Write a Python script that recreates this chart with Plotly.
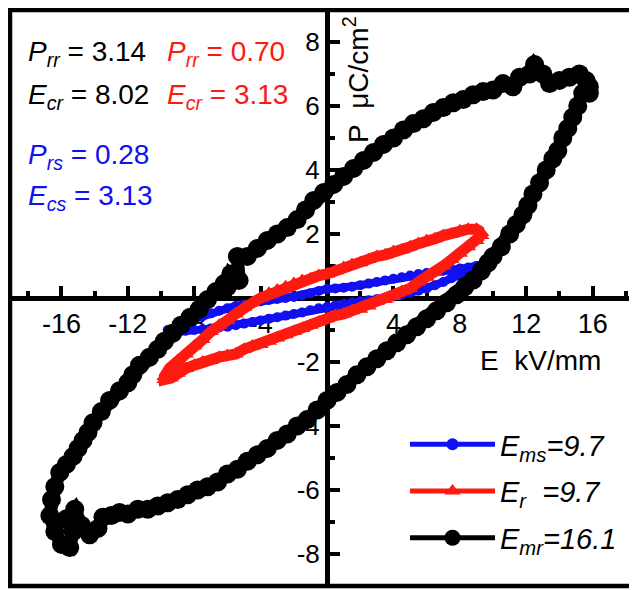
import plotly.graph_objects as go

# ---------------- data ----------------
# Black loop, E_mr = 16.1 (E in kV/mm, P in uC/cm^2)
black_E = [15.8, 15.6, 15.2, 14.6, 14.0, 13.4, 13.0, 12.5, 12.2, 11.6, 11.2, 10.6, 10.0, 9.4, 8.8, 8.2,
           7.6, 7.0, 6.4, 5.8, 5.2, 4.6, 4.0, 3.4, 2.8, 2.2, 1.6, 1.0, 0.4, -0.2, -0.8, -1.3, -1.8, -2.4,
           -3.0, -3.6, -4.2, -4.8, -5.4, -5.3, -5.8, -6.0, -6.2, -6.7, -7.2, -7.7, -8.25, -8.8, -9.3, -9.8, -10.2,
           -10.7, -11.3, -11.7, -12.0, -12.5, -13.1, -13.6, -14.1, -14.4, -14.7, -15.0, -15.3, -15.7,
           -16.1, -16.4, -16.6, -16.7, -16.4, -16.0, -15.5, -15.3, -15.7, -15.2, -14.8,
           -14.3, -13.8, -13.5, -13.0, -12.5, -12.0, -11.4, -10.8, -10.2, -9.6, -9.0,
           -8.4, -7.8, -7.2, -6.6, -6.0, -5.4, -4.8, -4.2, -3.6, -3.0, -2.4, -1.8, -1.2, -0.6, 0.0,
           0.6, 1.2, 1.8, 2.4, 3.0, 3.6, 4.2, 4.8, 5.4, 6.0, 6.6, 7.2, 7.8, 8.3, 8.8, 9.3, 9.7, 10.0,
           10.5, 11.0, 11.4, 11.8, 12.1, 12.4, 12.8, 13.2, 13.6, 13.9, 14.2, 14.5, 14.8, 15.1, 15.4, 15.8]
black_P = [6.4, 6.8, 7.0, 6.9, 6.8, 6.7, 7.0, 7.3, 7.0, 6.9, 6.6, 6.7, 6.5, 6.45, 6.35, 6.2,
           6.1, 5.95, 5.8, 5.6, 5.45, 5.25, 5.0, 4.8, 4.55, 4.3, 4.05, 3.8, 3.55, 3.3, 3.05, 2.75, 2.45, 2.2,
           2.0, 1.8, 1.55, 1.3, 1.3, 0.55, 0.75, 0.35, 0.45, 0.2, -0.05, -0.35, -0.6, -0.85, -1.1, -1.35, -1.6,
           -1.85, -2.1, -2.4, -2.65, -2.9, -3.2, -3.55, -3.9, -4.2, -4.45, -4.7, -4.95, -5.2,
           -5.45, -5.9, -6.3, -6.8, -7.3, -7.7, -7.8, -7.3, -6.9, -6.6, -7.1,
           -7.4, -7.2, -6.85, -6.8, -6.7, -6.75, -6.6, -6.6, -6.5, -6.4, -6.3,
           -6.15, -6.0, -5.9, -5.75, -5.5, -5.35, -5.1, -4.9, -4.7, -4.45, -4.25, -4.0, -3.8, -3.5, -3.2,
           -2.95, -2.7, -2.4, -2.15, -1.9, -1.65, -1.4, -1.15, -0.9, -0.65, -0.4, -0.15, 0.1, 0.35, 0.56, 0.85, 1.1, 1.3,
           1.6, 2.0, 2.3, 2.6, 2.9, 3.25, 3.6, 4.0, 4.35, 4.6, 5.0, 5.3, 5.65, 6.0, 6.4, 6.6]

# Red loop, E_r = 9.7
red_E = [9.3, 9.0, 8.5, 8.0, 7.5, 7.0, 6.5, 6.0, 5.5, 5.0, 4.5, 4.0, 3.5, 3.0, 2.5, 2.0, 1.5, 1.0, 0.5, 0.0,
         -0.5, -1.0, -1.5, -2.0, -2.5, -3.0, -3.5, -4.0, -4.5, -5.0, -5.5, -6.0, -6.5, -7.0, -7.5, -8.0,
         -8.5, -9.0, -9.5, -9.8,
         -9.8, -9.4, -9.0, -8.5, -8.0, -7.5, -7.0, -6.5, -6.0, -5.5, -5.0, -4.5, -4.0, -3.5, -3.0, -2.5,
         -2.0, -1.5, -1.0, -0.5, 0.0, 0.5, 1.0, 1.5, 2.0, 2.5, 3.0, 3.5, 4.0, 4.5, 5.0, 5.5, 6.0, 6.5,
         7.0, 7.5, 8.0, 8.5, 9.0, 9.3]
red_P = [2.05, 2.15, 2.15, 2.1, 2.0, 1.95, 1.85, 1.8, 1.7, 1.6, 1.5, 1.45, 1.35, 1.3, 1.2, 1.1, 1.05, 0.95, 0.85, 0.75,
         0.7, 0.6, 0.55, 0.45, 0.35, 0.25, 0.15, 0.0, -0.15, -0.3, -0.5, -0.7, -0.85, -1.05, -1.3, -1.5,
         -1.75, -1.95, -2.2, -2.45,
         -2.55, -2.5, -2.35, -2.2, -2.1, -2.0, -1.95, -1.85, -1.8, -1.75, -1.6, -1.5, -1.45, -1.35, -1.25, -1.15,
         -1.05, -0.95, -0.85, -0.75, -0.65, -0.55, -0.5, -0.4, -0.35, -0.25, -0.1, -0.05, 0.05, 0.2, 0.3, 0.5, 0.65, 0.8,
         1.0, 1.2, 1.4, 1.6, 1.8, 1.95]

# Blue loop, E_ms = 9.7
blue_E = [9.6, 9.0, 8.5, 8.0, 7.5, 7.0, 6.5, 6.0, 5.5, 5.0, 4.5, 4.0, 3.5, 3.0, 2.5, 2.0, 1.5, 1.0, 0.5, 0.0,
          -0.5, -1.0, -1.5, -2.0, -2.5, -3.0, -3.5, -4.0, -4.5, -5.0, -5.5, -6.0, -6.5, -7.0, -7.5, -8.0,
          -8.5, -9.0, -9.6,
          -9.6, -9.0, -8.5, -8.0, -7.5, -7.0, -6.5, -6.0, -5.5, -5.0, -4.5, -4.0, -3.5, -3.0, -2.5, -2.0,
          -1.5, -1.0, -0.5, 0.0, 0.5, 1.0, 1.5, 2.0, 2.5, 3.0, 3.5, 4.0, 4.5, 5.0, 5.5, 6.0, 6.5, 7.0,
          7.5, 8.0, 8.5, 9.0, 9.6]
blue_P = [1.1, 1.0, 0.95, 0.92, 0.88, 0.85, 0.82, 0.78, 0.75, 0.7, 0.65, 0.6, 0.55, 0.5, 0.45, 0.4, 0.35, 0.32, 0.3, 0.28,
          0.22, 0.15, 0.08, 0.03, 0.0, -0.03, -0.06, -0.1, -0.15, -0.2, -0.25, -0.32, -0.4, -0.48, -0.57, -0.66,
          -0.75, -0.85, -1.0,
          -1.1, -1.05, -1.02, -1.0, -0.98, -0.95, -0.92, -0.9, -0.85, -0.8, -0.75, -0.7, -0.65, -0.6, -0.55, -0.5,
          -0.45, -0.38, -0.32, -0.28, -0.23, -0.18, -0.14, -0.1, -0.07, -0.04, 0.0, 0.05, 0.1, 0.16, 0.23, 0.3, 0.4, 0.5,
          0.62, 0.72, 0.82, 0.95, 1.05]

x_ticks = [-16, -12, -8, -4, 4, 8, 12, 16]
x_minor = [-18, -14, -10, -6, -2, 2, 6, 10, 14, 18]
y_ticks = [-8, -6, -4, -2, 2, 4, 6, 8]
y_minor = [-7, -5, -3, -1, 1, 3, 5, 7]

series_names = ["<i>E</i><sub><i>ms</i></sub><i>=9.7</i>",
                "<i>E</i><sub><i>r</i></sub><i>\u00a0\u00a0=9.7</i>",
                "<i>E</i><sub><i>mr</i></sub><i>=16.1</i>"]
series_colors = ["#1010f0", "#ff1a10", "black"]
series_symbols = ["circle", "triangle-up", "circle"]

FONT = "Liberation Sans, Arial, sans-serif"

fig = go.Figure()
# data loops (drawn thick, like the dense measured points)
fig.add_trace(go.Scatter(x=blue_E, y=blue_P, mode="lines+markers", showlegend=False,
                         line=dict(color=series_colors[0], width=8),
                         marker=dict(symbol=series_symbols[0], size=10, color=series_colors[0])))
fig.add_trace(go.Scatter(x=red_E, y=red_P, mode="lines+markers", showlegend=False,
                         line=dict(color=series_colors[1], width=11),
                         marker=dict(symbol=series_symbols[1], size=14, color=series_colors[1])))
fig.add_trace(go.Scatter(x=black_E, y=black_P, mode="lines+markers", showlegend=False,
                         line=dict(color=series_colors[2], width=13),
                         marker=dict(symbol=series_symbols[2], size=19, color=series_colors[2])))
# legend entries
leg_sizes = [12, 14, 19]
for i in range(3):
    fig.add_trace(go.Scatter(x=[None], y=[None], mode="lines+markers", name=series_names[i],
                             legendgroup=f"g{i}",
                             line=dict(color=series_colors[i], width=5),
                             marker=dict(symbol=series_symbols[i], size=leg_sizes[i], color=series_colors[i])))

# page offset of the plot div (browser body margin) is 8 px
OFF = 8
W, H = 637, 590
L, T, B = 10, 10, 4          # plot-area edges in page pixels
PW, PH = W - L, H - T - B


def px(x):
    return (x - L) / PW


def py(y):
    return (H - B - y) / PH


fig.update_layout(
    width=W - OFF, height=H - OFF,
    margin=dict(l=L - OFF, r=0, t=T - OFF, b=B),
    paper_bgcolor="white", plot_bgcolor="white",
    font=dict(family=FONT, color="black"),
    xaxis=dict(range=[-19.1, 18.67], anchor="free", position=0.5, side="bottom",
               showline=True, linewidth=5, linecolor="black", showgrid=False, zeroline=False,
               ticks="inside", ticklen=10, tickwidth=3.5, tickcolor="black",
               tickmode="array", tickvals=x_ticks, ticktext=[str(v) for v in x_ticks],
               tickfont=dict(size=27, family=FONT),
               minor=dict(tickmode="array", tickvals=x_minor, ticks="inside", ticklen=5,
                          tickwidth=3.5, tickcolor="black"),
               layer="below traces", fixedrange=True),
    yaxis=dict(range=[-9, 9], anchor="free", position=px(327), side="left",
               showline=True, linewidth=5, linecolor="black", showgrid=False, zeroline=False,
               ticks="inside", ticklen=10, tickwidth=3.5, tickcolor="black",
               tickmode="array", tickvals=y_ticks, ticktext=[str(v) for v in y_ticks],
               tickfont=dict(size=26, family=FONT),
               minor=dict(tickmode="array", tickvals=y_minor, ticks="inside", ticklen=5,
                          tickwidth=3.5, tickcolor="black"),
               layer="below traces", fixedrange=True),
    showlegend=True,
    legend=dict(x=px(405), y=py(419), xanchor="left", yanchor="top",
                bgcolor="rgba(0,0,0,0)", itemwidth=85, tracegroupgap=6,
                font=dict(size=29, family=FONT)),
)

# frame (its right side lies beyond the picture)
fig.add_shape(type="rect", xref="paper", yref="paper", x0=0, x1=1.05, y0=0, y1=1,
              line=dict(color="black", width=4.5), layer="above")

ann = [
    ("<i>P</i><sub><i>rr</i></sub> = 3.14", 26, 54, "black"),
    ("<i>E</i><sub><i>cr</i></sub> = 8.02", 26, 97, "black"),
    ("<i>P</i><sub><i>rr</i></sub> = 0.70", 165, 54, "#ff1a10"),
    ("<i>E</i><sub><i>cr</i></sub> = 3.13", 165, 97, "#ff1a10"),
    ("<i>P</i><sub><i>rs</i></sub> = 0.28", 26, 156, "#1010f0"),
    ("<i>E</i><sub><i>cs</i></sub> = 3.13", 26, 197, "#1010f0"),
]
for txt, x, y, c in ann:
    fig.add_annotation(text=txt, x=px(x), y=py(y), xref="paper", yref="paper",
                       xanchor="left", yanchor="middle", showarrow=False,
                       font=dict(size=28, color=c, family=FONT))

fig.add_annotation(text="E\u00a0\u00a0kV/mm", x=px(478), y=py(360), xref="paper", yref="paper",
                   xanchor="left", yanchor="middle", showarrow=False,
                   font=dict(size=28, family=FONT))
fig.add_annotation(text="P\u00a0\u00a0μC/cm<sup>2</sup>", x=px(356), y=py(80), xref="paper", yref="paper",
                   xanchor="center", yanchor="middle", showarrow=False, textangle=-90,
                   font=dict(size=28, family=FONT))

fig.write_html("out.html")
